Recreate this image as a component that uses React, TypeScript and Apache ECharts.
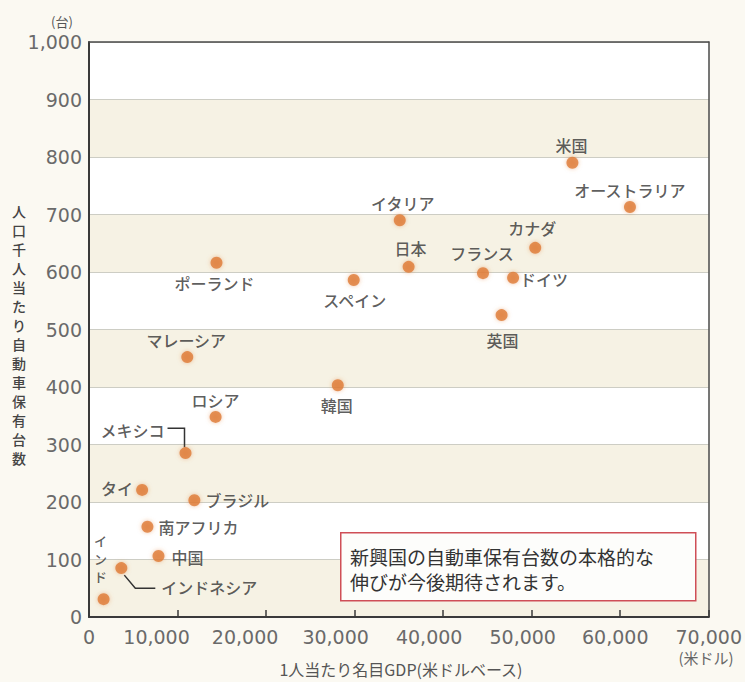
import React, { useEffect, useRef } from "react";
import * as echarts from "echarts";

const countries = [
  "米国", "オーストラリア", "イタリア", "日本", "カナダ", "フランス", "ドイツ",
  "スペイン", "英国", "韓国", "ポーランド", "マレーシア", "ロシア", "メキシコ",
  "タイ", "ブラジル", "南アフリカ", "中国", "インドネシア", "インド",
];
const gdpPerCapita = [
  54600, 61100, 35100, 36100, 50400, 44500, 47900,
  29900, 46600, 28100, 14400, 11100, 14300, 10900,
  6000, 11900, 6600, 7850, 3650, 1650,
];
const carsPer1000 = [
  790, 713, 690, 609, 642, 598, 590,
  586, 525, 403, 616, 452, 348, 285,
  221, 203, 157, 106, 85, 31,
];
// label offsets (px) of each country's label centre from its dot
const labelOffsets: number[][] = [
  [-1, -18], [0, -17], [3, -17], [2, -19], [-3, -20], [-1, -20], [31, 1],
  [1, 20], [1, 25], [-1, 20], [-2, 20], [-1, -17], [0, -17], [-53, -23],
  [-25, -2], [43, 0], [51, 0], [29, 1], [88, 19], [-3, -41],
];
const leaderCountries = ["メキシコ", "インドネシア"];

const yTicks = [0, 100, 200, 300, 400, 500, 600, 700, 800, 900, 1000];
const xTicks = [0, 10000, 20000, 30000, 40000, 50000, 60000, 70000];
// leftward shift (px) of each x tick label, as in the reference
const xLabelShift = [0, 21, 21, 19, 14, 9, 5, 0];

const yAxisTitle = "人口千人当たり自動車保有台数";
const xAxisTitle = "1人当たり名目GDP(米ドルベース)";
const yUnit = "(台)";
const xUnit = "(米ドル)";
const noteText = ["新興国の自動車保有台数の本格的な", "伸びが今後期待されます。"];

const CJK = '"Noto Sans CJK JP", "Noto Sans", sans-serif';
const NUM = '"DejaVu Sans", "Noto Sans", sans-serif';
const fmt = (v: number) => v.toLocaleString("en-US");

export default function App() {
  const ref = useRef<HTMLDivElement>(null);
  useEffect(() => {
    if (!ref.current) return;
    const chart = echarts.init(ref.current, undefined, { renderer: "svg" });

    const scatterData = countries.map((name, i) => ({
      name,
      value: [gdpPerCapita[i], carsPer1000[i]],
      label: {
        show: true,
        position: "inside",
        offset: labelOffsets[i],
        formatter: name === "インド" ? name.split("").join("\n") : name,
        fontSize: name === "インド" ? 13 : 16,
        lineHeight: 18,
      },
    }));

    const leaderData = leaderCountries.map((n, k) => {
      const i = countries.indexOf(n);
      return [gdpPerCapita[i], carsPer1000[i], k];
    });

    const tickText = { fontSize: 19, color: "#6a6a6a", fontFamily: NUM };
    const shiftGroups = Array.from(new Set(xLabelShift));
    const labelFor = (shift: number) => (v: number) => {
      const i = xTicks.indexOf(v);
      return i >= 0 && xLabelShift[i] === shift ? fmt(v) : "";
    };

    const xAxes: any[] = shiftGroups.map((shift, g) => ({
      type: "value",
      position: "bottom",
      min: 0,
      max: 70000,
      interval: 10000,
      axisLine:
        g === 0
          ? { show: true, lineStyle: { color: "#3a3a3a", width: 2 } }
          : { show: false },
      axisTick:
        g === 0
          ? { show: true, inside: true, length: 7, lineStyle: { color: "#3a3a3a", width: 1.5 } }
          : { show: false },
      splitLine: { show: false },
      axisLabel: {
        ...tickText,
        margin: 10,
        padding: [0, shift * 2, 0, 0],
        formatter: labelFor(shift),
      },
    }));
    xAxes.push({
      type: "value",
      position: "top",
      min: 0,
      max: 70000,
      interval: 10000,
      axisLine: { show: true, onZero: false, lineStyle: { color: "#4a4a4a", width: 1.5 } },
      axisTick: { show: false },
      axisLabel: { show: false },
      splitLine: { show: false },
    });

    chart.setOption({
      animation: false,
      backgroundColor: "#fbf9f2",
      grid: { left: 89, right: 36, top: 42, bottom: 65, containLabel: false },
      xAxis: xAxes,
      yAxis: [
        {
          type: "value",
          min: 0,
          max: 1000,
          interval: 100,
          axisLine: { show: true, lineStyle: { color: "#3a3a3a", width: 2 } },
          axisTick: { show: false },
          axisLabel: {
            ...tickText,
            margin: 7,
            formatter: (v: number) => (yTicks.includes(v) ? fmt(v) : ""),
          },
          splitLine: { show: true, lineStyle: { color: "#cdcdc4", width: 1 } },
          splitArea: { show: true, areaStyle: { color: ["#f6f2e4", "#ffffff"] } },
        },
        {
          type: "value",
          position: "right",
          min: 0,
          max: 1000,
          interval: 100,
          axisLine: { show: true, onZero: false, lineStyle: { color: "#4a4a4a", width: 1.5 } },
          axisTick: { show: false },
          axisLabel: { show: false },
          splitLine: { show: false },
        },
      ],
      series: [
        {
          type: "custom",
          xAxisIndex: 0,
          yAxisIndex: 0,
          silent: true,
          z: 3,
          data: leaderData,
          renderItem: (params: any, api: any) => {
            const p = api.coord([api.value(0), api.value(1)]);
            const kind = api.value(2);
            const pts =
              kind === 0
                ? [[p[0] - 18, p[1] - 25], [p[0] - 1, p[1] - 25], [p[0] - 1, p[1] - 6]]
                : [[p[0] + 3, p[1] + 7], [p[0] + 14, p[1] + 20], [p[0] + 34, p[1] + 20]];
            return {
              type: "polyline",
              shape: { points: pts },
              style: { stroke: "#333", lineWidth: 1.5, fill: null },
            };
          },
        },
        {
          type: "scatter",
          xAxisIndex: 0,
          yAxisIndex: 0,
          symbolSize: 12,
          z: 4,
          itemStyle: {
            color: "#df7a34",
            shadowBlur: 4,
            shadowColor: "rgba(223,122,52,0.55)",
          },
          label: {
            show: true,
            color: "#333",
            fontSize: 16,
            fontWeight: 500,
            fontFamily: CJK,
            align: "center",
            verticalAlign: "middle",
          },
          data: scatterData,
        },
      ],
      graphic: [
        {
          type: "text",
          x: 62,
          y: 21,
          style: {
            text: yUnit,
            fontSize: 13,
            fill: "#555",
            fontFamily: CJK,
            align: "center",
            verticalAlign: "middle",
          },
        },
        {
          type: "text",
          x: 19,
          y: 334,
          style: {
            text: yAxisTitle.split("").join("\n"),
            fontSize: 14,
            fontWeight: 500,
            lineHeight: 19,
            fill: "#444",
            fontFamily: CJK,
            align: "center",
            verticalAlign: "middle",
          },
        },
        {
          type: "text",
          x: 401,
          y: 669,
          style: {
            text: xAxisTitle,
            fontSize: 16,
            fill: "#555",
            fontFamily: CJK,
            align: "center",
            verticalAlign: "middle",
          },
        },
        {
          type: "text",
          x: 706,
          y: 657,
          style: {
            text: xUnit,
            fontSize: 15,
            fill: "#666",
            fontFamily: CJK,
            align: "center",
            verticalAlign: "middle",
          },
        },
        {
          type: "rect",
          left: 340,
          top: 532,
          z: 10,
          shape: { width: 355, height: 68 },
          style: { fill: "#fdfdfb", stroke: "#cf4f57", lineWidth: 1.5 },
        },
        {
          type: "text",
          x: 350,
          y: 556,
          z: 11,
          style: {
            text: noteText[0],
            fontSize: 19,
            fill: "#333",
            fontFamily: CJK,
            align: "left",
            verticalAlign: "middle",
          },
        },
        {
          type: "text",
          x: 350,
          y: 581,
          z: 11,
          style: {
            text: noteText[1],
            fontSize: 19,
            fill: "#333",
            fontFamily: CJK,
            align: "left",
            verticalAlign: "middle",
          },
        },
      ],
    });
    return () => chart.dispose();
  }, []);
  return (
    <div
      ref={ref}
      style={{ position: "fixed", left: 0, top: 0, width: 745, height: 682, background: "#fbf9f2" }}
    />
  );
}
